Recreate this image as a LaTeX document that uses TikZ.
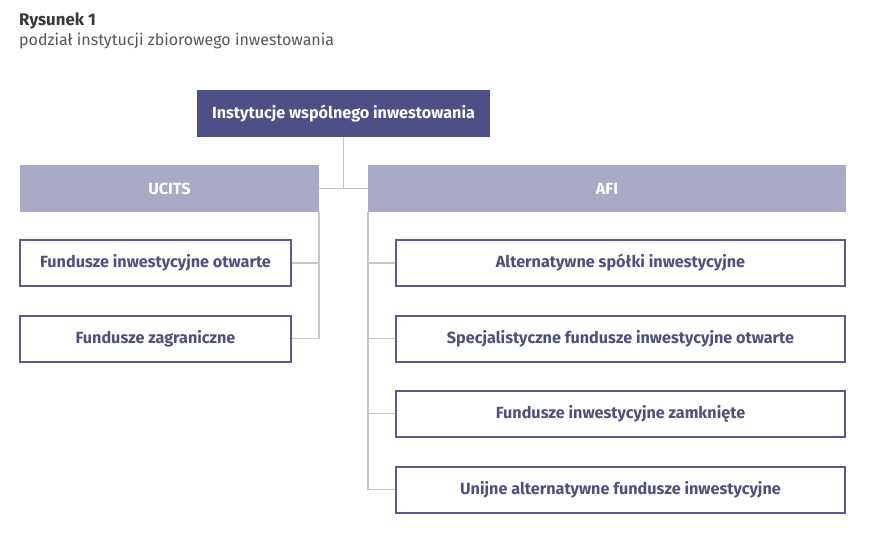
\documentclass[tikz,border=0pt]{standalone}
\usepackage{fontspec}
\setmainfont{Fira Sans}
\usetikzlibrary{positioning}
\definecolor{topblue}{HTML}{4E5085}
\definecolor{midblue}{HTML}{A8AAC7}
\definecolor{edgeblue}{HTML}{5A5B8C}
\definecolor{leaftext}{HTML}{4F507C}
\definecolor{linkgray}{HTML}{C6C6C6}
\begin{document}
\begin{tikzpicture}[x=1pt, y=-1pt,
        rootbox/.style={fill=topblue, text=white, font=\fontsize{16.2}{19}\selectfont\bfseries,
            minimum width=293pt, minimum height=47pt, inner sep=0pt},
        groupbox/.style={fill=midblue, text=white, font=\fontsize{16.2}{19}\selectfont\bfseries,
            minimum height=47pt, inner sep=0pt},
        leafbox/.style={draw=edgeblue, line width=2pt, fill=white, text=leaftext,
            font=\fontsize{16.2}{19}\selectfont\bfseries, minimum height=46pt, inner sep=0pt},
        link/.style={draw=linkgray, line width=1.6pt}]
        \useasboundingbox (0,0) rectangle (880,540);

        \node[anchor=base west, inner sep=0pt, text=black!78, font=\fontsize{16.8}{19}\selectfont\bfseries] (fig) at (19,26) {Rysunek 1};
        \node[anchor=base west, inner sep=0pt, text=black!66, font=\fontsize{16}{19}\selectfont] (caption) at (19,46) {podział instytucji zbiorowego inwestowania};

        \node[rootbox] (root) at (343.5,113.5) {Instytucje wspólnego inwestowania};
        \node[groupbox, minimum width=299pt] (ucits) at (169.5,188.5) {UCITS};
        \node[groupbox, minimum width=478pt] (afi) at (607,188.5) {AFI};

        \node[leafbox, minimum width=271pt] (u1) at (155.5,263) {Fundusze inwestycyjne otwarte};
        \node[leafbox, minimum width=271pt] (u2) at (155.5,338.5) {Fundusze zagraniczne};

        \node[leafbox, minimum width=449pt] (a1) at (620.5,263) {Alternatywne spółki inwestycyjne};
        \node[leafbox, minimum width=449pt] (a2) at (620.5,338.5) {Specjalistyczne fundusze inwestycyjne otwarte};
        \node[leafbox, minimum width=449pt] (a3) at (620.5,413.5) {Fundusze inwestycyjne zamknięte};
        \node[leafbox, minimum width=449pt] (a4) at (620.5,489.5) {Unijne alternatywne fundusze inwestycyjne};

        \draw[link] (root.south) -- (root.south |- ucits.east);
        \draw[link] (ucits.east) -- (afi.west);

        \draw[link] (ucits.south east) |- (u2.east);
        \draw[link] (u1.east) -- (u1.east -| ucits.east);

        \draw[link] (afi.south west) |- (a4.west);
        \foreach \leaf in {a1,a2,a3}
            \draw[link] (\leaf.west) -- (\leaf.west -| afi.west);
    \end{tikzpicture}
\end{document}
